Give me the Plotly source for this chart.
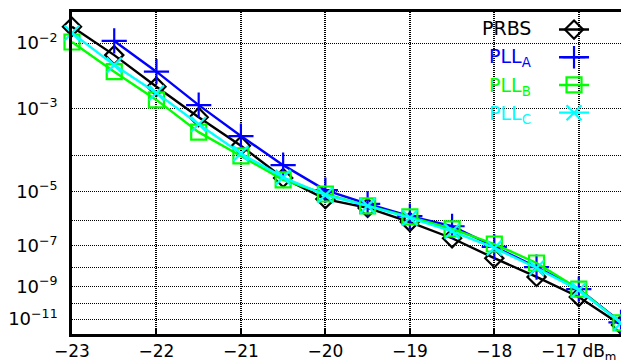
import numpy as np
import plotly.graph_objects as go

# Received optical power (dBm)
power_all = [-23, -22.5, -22, -21.5, -21, -20.5, -20, -19.5, -19, -18.5, -18, -17.5, -17, -16.5]
power_a = power_all[1:]

# Bit error ratios
ber_prbs = [1.55e-2, 7.0e-3, 2.4e-3, 6.9e-4, 1.7e-4, 2.5e-5, 5.7e-6, 2.9e-6, 9.1e-7, 2.1e-7, 2.8e-8, 3.3e-9, 2.5e-10, 3.9e-12]
ber_pll_a = [1.06e-2, 4.1e-3, 1.16e-3, 2.8e-4, 5.6e-5, 1.1e-5, 4.0e-6, 1.5e-6, 6.3e-7, 9.0e-8, 1.05e-8, 7.2e-10, 6.0e-12]
ber_pll_b = [1.03e-2, 4.1e-3, 1.44e-3, 3.4e-4, 9.6e-5, 2.2e-5, 8.3e-6, 3.4e-6, 1.4e-6, 5.0e-7, 1.2e-7, 1.65e-8, 7.2e-10, 5.4e-12]
ber_pll_c = [1.32e-2, 5.1e-3, 1.9e-3, 5.0e-4, 1.1e-4, 2.6e-5, 7.7e-6, 3.4e-6, 1.3e-6, 4.0e-7, 8.1e-8, 9.4e-9, 6.3e-10, 5.4e-12]

# Tick labels
x_ticks = [-23, -22, -21, -20, -19, -18, -17]
x_ticktext = ["\u221223", "\u221222", "\u221221", "\u221220", "\u221219", "\u221218", "\u221217 dB<sub>m</sub>"]
y_labelled = [2, 3, 5, 7, 9, 11]
y_unlabelled = [4, 6, 8, 10]

series_names = ["PRBS", "PLL<sub>A</sub>", "PLL<sub>B</sub>", "PLL<sub>C</sub>"]
colors = ["#000000", "#0000ff", "#00ff00", "#00ffff"]


def ber_scale(ber):
    # BER axis: log10(-log10(BER))
    return np.log10(-np.log10(np.asarray(ber, dtype=float)))


fig = go.Figure()
specs = [
    (power_all, ber_prbs, "diamond-open", 14),
    (power_a, ber_pll_a, "cross-thin", 18),
    (power_all, ber_pll_b, "square-open", 15),
    (power_all, ber_pll_c, "x-thin", 15),
]
for (xs, bers, sym, size), col in zip(specs, colors):
    fig.add_trace(go.Scatter(
        x=xs, y=ber_scale(bers), mode="lines+markers",
        name="\u00a0",
        line=dict(color=col, width=2.4),
        marker=dict(symbol=sym, size=size, color=col, line=dict(color=col, width=2.2)),
        cliponaxis=False,
    ))

fig.update_layout(
    width=621, height=360,
    margin=dict(l=72, r=0, t=12, b=26),
    paper_bgcolor="white", plot_bgcolor="white",
    font=dict(family="DejaVu Sans", size=18, color="black"),
    showlegend=True,
    legend=dict(x=0.878, y=1.004, xanchor="left", yanchor="top",
                bgcolor="rgba(0,0,0,0)", borderwidth=0,
                font=dict(size=19), tracegroupgap=0),
    xaxis=dict(
        range=[-23, -16.5], tickvals=x_ticks, ticktext=x_ticktext,
        tickfont=dict(size=17),
        showgrid=True, gridcolor="black", gridwidth=1.5, griddash="1px,1px",
        showline=True, linecolor="black", linewidth=2.5, mirror=True,
        ticks="inside", ticklen=5, tickwidth=2, tickcolor="black",
        zeroline=False, ticklabelstandoff=0, automargin=False,
    ),
    yaxis=dict(
        range=[1.0815, 0.2178],
        tickmode="array",
        tickvals=[float(np.log10(k)) for k in y_labelled],
        ticktext=["10<sup>\u2212%d</sup>" % k for k in y_labelled],
        showgrid=True, gridcolor="black", gridwidth=1, griddash="1px,1px",
        minor=dict(tickmode="array", tickvals=[float(np.log10(k)) for k in y_unlabelled],
                   showgrid=True, gridcolor="black", gridwidth=1, griddash="1px,1px",
                   ticks=""),
        showline=True, linecolor="black", linewidth=2.5,
        ticks="", zeroline=False, ticklabelstandoff=8, automargin=False,
    ),
)

legend_y = [0.950, 0.860, 0.770, 0.683]
for name, col, yy in zip(series_names, colors, legend_y):
    fig.add_annotation(
        x=0.8397, y=yy, xref="paper", yref="paper", xanchor="right", yanchor="middle",
        text=name, showarrow=False, font=dict(size=19, color=col, family="DejaVu Sans"),
    )

fig.write_html(
    "out.html",
    config={"displayModeBar": False},
    post_script="document.body.style.margin='0';document.body.style.overflow='hidden';",
)
